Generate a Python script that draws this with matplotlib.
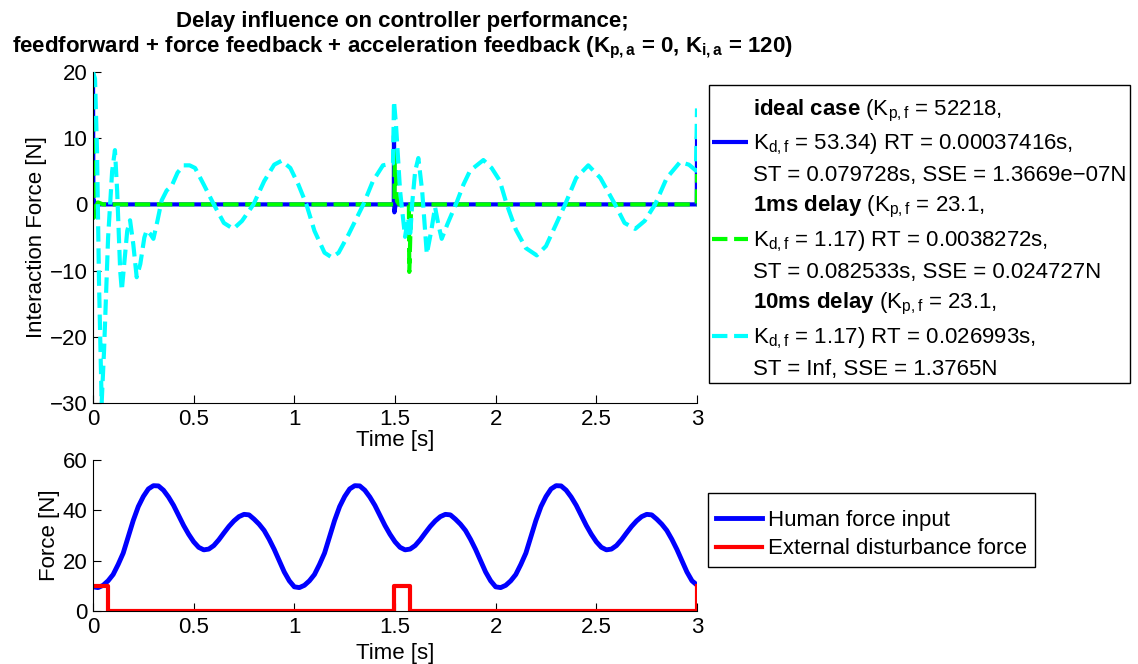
import numpy as np
import matplotlib
matplotlib.use("Agg")
import matplotlib.pyplot as plt
from matplotlib.lines import Line2D

plt.rcParams['font.family'] = ['Liberation Sans', 'DejaVu Sans']
plt.rcParams['mathtext.fontset'] = 'custom'
plt.rcParams['mathtext.rm'] = 'Liberation Sans'
plt.rcParams['mathtext.bf'] = 'Liberation Sans:bold'
plt.rcParams['mathtext.it'] = 'Liberation Sans:italic'
plt.rcParams['mathtext.default'] = 'regular'
plt.rcParams['axes.unicode_minus'] = True

# ---------------- data ----------------
# Interaction force, ideal case
t_ideal = [0.0, 0.002, 0.006, 0.012, 1.494, 1.495, 1.497, 1.503, 2.999, 3.0]
f_ideal = [20.0, -2.0, 0.5, 0.0, 0.0, 10.4, -1.2, 0.0, 0.0, 10.2]

# Interaction force, 1 ms delay
t_1ms = [0.0, 0.004, 0.012, 0.025, 0.05, 1.497, 1.499, 1.51, 1.52,
         1.569, 1.571, 1.58, 1.59, 2.999, 3.0]
f_1ms = [20.0, -2.0, -0.5, 0.3, 0.0, 0.0, 8.0, 0.5, 0.0,
         0.0, -10.2, -0.5, 0.0, 0.0, 4.6]

# Interaction force, 10 ms delay
t_10ms = [0.0, 0.01, 0.02, 0.03, 0.043, 0.055, 0.075, 0.095, 0.109, 0.12,
          0.135, 0.143, 0.155, 0.17, 0.184, 0.2, 0.217, 0.235, 0.255, 0.267,
          0.285, 0.3, 0.32, 0.341, 0.366, 0.391, 0.42, 0.45, 0.48, 0.507,
          0.55, 0.6, 0.65, 0.697, 0.74, 0.797, 0.85, 0.9, 0.937, 0.98,
          1.02, 1.06, 1.1, 1.15, 1.186, 1.22, 1.27, 1.343, 1.39, 1.44,
          1.49, 1.495, 1.505, 1.525, 1.55, 1.565, 1.575, 1.585, 1.6, 1.616,
          1.635, 1.658, 1.68, 1.699, 1.715, 1.732, 1.76, 1.807, 1.84, 1.873,
          1.939, 1.98, 2.02, 2.055, 2.1, 2.15, 2.204, 2.25, 2.3, 2.345,
          2.4, 2.46, 2.52, 2.593, 2.64, 2.693, 2.74, 2.792, 2.85, 2.916,
          2.96, 2.995, 3.0]
f_10ms = [20.0, 19.0, 8.0, -12.0, -30.0, -22.0, -5.0, 5.0, 8.2, 2.0,
          -10.0, -13.0, -9.0, -4.0, -2.4, -6.0, -11.0, -9.0, -5.0, -3.9,
          -4.5, -5.2, -2.5, 0.6, 2.1, 2.8, 4.8, 5.9, 5.9, 5.5,
          3.0, 0.0, -2.8, -3.7, -2.5, 0.0, 3.5, 6.0, 6.6, 5.5,
          3.0, 0.0, -4.0, -7.3, -8.0, -7.3, -4.5, 0.0, 3.5, 5.9,
          6.2, 15.6, 12.0, 2.1, -4.9, -2.0, -5.0, 0.0, 5.0, 7.0,
          2.0, -7.5, -4.0, -0.4, -3.0, -5.2, -3.0, 0.35, 3.0, 5.1,
          6.7, 5.5, 3.6, 0.0, -3.8, -6.6, -7.7, -6.3, -3.0, 0.0,
          4.0, 5.9, 4.0, 0.0, -2.8, -3.7, -2.5, 0.0, 4.0, 6.4,
          6.0, 5.1, 14.5]

# Human force input (sampled every 0.025 s)
t_human = [i * 0.025 for i in range(121)]
f_human = [9.6, 9.3, 10.2, 12.0, 14.5, 18.5, 23.0, 29.5, 36.0, 41.5,
           45.5, 48.5, 49.8, 49.7, 48.0, 45.3, 42.0, 38.0, 34.0, 30.5,
           27.5, 25.3, 24.3, 24.6, 26.0, 28.3, 31.0, 33.6, 35.8, 37.5,
           38.4, 38.2, 36.5, 34.5, 32.0, 28.5, 24.5, 20.0, 15.5, 12.0,
           9.6, 9.3, 10.2, 12.0, 14.5, 18.5, 23.0, 29.5, 36.0, 41.5,
           45.5, 48.5, 49.8, 49.7, 48.0, 45.3, 42.0, 38.0, 34.0, 30.5,
           27.5, 25.3, 24.3, 24.6, 26.0, 28.3, 31.0, 33.6, 35.8, 37.5,
           38.4, 38.2, 36.5, 34.5, 32.0, 28.5, 24.5, 20.0, 15.5, 12.0,
           9.6, 9.3, 10.2, 12.0, 14.5, 18.5, 23.0, 29.5, 36.0, 41.5,
           45.5, 48.5, 49.8, 49.7, 48.0, 45.3, 42.0, 38.0, 34.0, 30.5,
           27.5, 25.3, 24.3, 24.6, 26.0, 28.3, 31.0, 33.6, 35.8, 37.5,
           38.4, 38.2, 36.5, 34.5, 32.0, 28.5, 24.5, 20.0, 15.5, 12.0,
           10.3]

# External disturbance force
t_dist = [0.0, 0.075, 0.075, 1.497, 1.497, 1.575, 1.575, 3.0, 3.0]
f_dist = [10, 10, 0, 0, 10, 10, 0, 0, 10]

x_ticks = [0, 0.5, 1, 1.5, 2, 2.5, 3]
x_ticklabels = ['0', '0.5', '1', '1.5', '2', '2.5', '3']
y_ticks_top = [-30, -20, -10, 0, 10, 20]
y_ticks_bot = [0, 20, 40, 60]

# legend text, one list per series (three lines each)
lab_ideal = ["$\\mathbf{ideal\\ case}$ (K$_{p,f}$ = 52218,",
             "K$_{d,f}$ = 53.34) RT = 0.00037416s,",
             "ST = 0.079728s, SSE = 1.3669e\u221207N"]
lab_1ms = ["$\\mathbf{1ms\\ delay}$ (K$_{p,f}$ = 23.1,",
           "K$_{d,f}$ = 1.17) RT = 0.0038272s,",
           "ST = 0.082533s, SSE = 0.024727N"]
lab_10ms = ["$\\mathbf{10ms\\ delay}$ (K$_{p,f}$ = 23.1,",
            "K$_{d,f}$ = 1.17) RT = 0.026993s,",
            "ST = Inf, SSE = 1.3765N"]
lab_bottom = ['Human force input', 'External disturbance force']

FS = 16
W, H = 1138, 664
fig = plt.figure(figsize=(W / 100, H / 100), dpi=100)

def frac(l, t, r, b):
    return [l / W, 1 - b / H, (r - l) / W, (b - t) / H]

ax1 = fig.add_axes(frac(93, 72, 697, 403))
ax2 = fig.add_axes(frac(93, 460, 697, 611))

for ax in (ax1, ax2):
    ax.spines['top'].set_visible(False)
    ax.spines['right'].set_visible(False)
    ax.tick_params(direction='in', length=6, labelsize=FS, pad=4)
    ax.set_xlim(0, 3)
    ax.set_xticks(x_ticks)
    ax.set_xticklabels(x_ticklabels)

l1, = ax1.plot(t_ideal, f_ideal, color='#0000ff', lw=3, solid_capstyle='butt')
l2, = ax1.plot(t_1ms, f_1ms, color='#00ff00', lw=3, ls='--')
l3, = ax1.plot(t_10ms, f_10ms, color='#00ffff', lw=3, ls='--')
ax1.set_ylim(-30, 20)
ax1.set_yticks(y_ticks_top)
ax1.set_xlabel('Time [s]', fontsize=FS, labelpad=0)
ax1.set_ylabel('Interaction Force [N]', fontsize=FS, labelpad=2)
ttl = ax1.set_title("Delay influence on controller performance;\n"
                    "feedforward + force feedback + acceleration feedback (K$_{p,a}$ = 0, K$_{i,a}$ = 120)",
                    fontsize=FS, fontweight='bold', pad=14)
ttl.set_x(0.512)

blank = Line2D([], [], color='none')
handles = [blank, l1, blank, blank, l2, blank, blank, l3, blank]
labels = lab_ideal + lab_1ms + lab_10ms
leg1 = ax1.legend(handles, labels,
                  loc='upper left', bbox_to_anchor=(709 / W, 1 - 85 / H),
                  bbox_transform=fig.transFigure, fontsize=FS, frameon=True,
                  fancybox=False, edgecolor='black', framealpha=1,
                  handlelength=1.6, handletextpad=0.22, borderpad=0.15,
                  labelspacing=0.365, borderaxespad=0,
                  title=' ', title_fontsize=1)
leg1.get_frame().set_linewidth(1.0)

h1, = ax2.plot(t_human, f_human, color='#0000ff', lw=3.5)
h2, = ax2.plot(t_dist, f_dist, color='#ff0000', lw=3)
ax2.set_ylim(0, 60)
ax2.set_yticks(y_ticks_bot)
ax2.set_xlabel('Time [s]', fontsize=FS, labelpad=4)
ax2.set_ylabel('Force [N]', fontsize=FS, labelpad=2)
leg2 = ax2.legend([h1, h2], lab_bottom,
                  loc='upper left', bbox_to_anchor=(708 / W, 1 - 493 / H),
                  bbox_transform=fig.transFigure, fontsize=FS, frameon=True,
                  fancybox=False, edgecolor='black', framealpha=1,
                  handlelength=2.1, handletextpad=0.25, borderpad=0.35,
                  labelspacing=0.35, borderaxespad=0,
                  title=' ', title_fontsize=1)
leg2.get_frame().set_linewidth(1.0)

fig.savefig('out.png', dpi=100)
